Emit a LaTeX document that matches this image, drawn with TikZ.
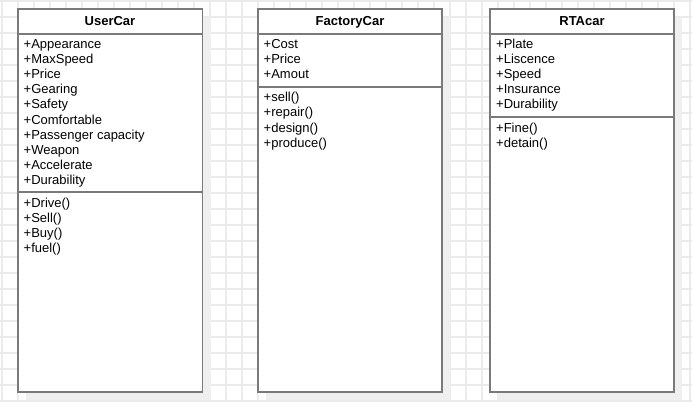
\documentclass[tikz,border=0pt]{standalone}
\usepackage{fontspec}
\setmainfont{Liberation Sans}
\definecolor{gridc}{HTML}{EBEBEB}
\definecolor{shadowc}{HTML}{EFEFEF}
\definecolor{linec}{HTML}{7A7A7A}
\tikzset{
  classbox/.style={draw=linec, line width=1.8pt, fill=white},
  divline/.style={draw=linec, line width=1.8pt},
  title/.style={font=\fontsize{13}{15}\selectfont\bfseries, inner sep=0pt, anchor=base, text=black},
  member/.style={font=\fontsize{13}{15}\selectfont, inner sep=0pt, anchor=base west, text=black, align=left}
}
\begin{document}
\begin{tikzpicture}[x=1pt,y=-1pt]
\useasboundingbox (0,0) rectangle (692,401);
\fill[white] (0,0) rectangle (692,401);
% grid
\foreach \gx in {2,18,...,690} { \draw[gridc, line width=1.2pt] (\gx,0) -- (\gx,401); }
\foreach \gy in {1,17,...,401} { \draw[gridc, line width=1.2pt] (0,\gy) -- (692,\gy); }
% shadows
\fill[shadowc] (26,17) rectangle (211,400);
\fill[shadowc] (266,17) rectangle (450,400);
\fill[shadowc] (498,17) rectangle (682,400);
% UserCar
\draw[classbox] (18,9) rectangle (202.5,392);
\draw[divline] (18,34) -- (202.5,34);
\draw[divline] (18,192) -- (202.5,192);
\node[title] (t1) at (110,26) {UserCar};
\node[member] (a1) at (23.5,49) {+Appearance};
\node[member] (a2) at (23.5,64) {+MaxSpeed};
\node[member] (a3) at (23.5,79) {+Price};
\node[member] (a4) at (23.5,94) {+Gearing};
\node[member] (a5) at (23.5,109) {+Safety};
\node[member] (a6) at (23.5,124) {+Comfortable};
\node[member] (a7) at (23.5,139) {+Passenger capacity};
\node[member] (a8) at (23.5,154) {+Weapon};
\node[member] (a9) at (23.5,169) {+Accelerate};
\node[member] (a10) at (23.5,184) {+Durability};
\node[member] (m1) at (23.5,207) {+Drive()};
\node[member] (m2) at (23.5,222) {+Sell()};
\node[member] (m3) at (23.5,237) {+Buy()};
\node[member] (m4) at (23.5,252) {+fuel()};
% FactoryCar
\draw[classbox] (258,9) rectangle (442,392);
\draw[divline] (258,34) -- (442,34);
\draw[divline] (258,87) -- (442,87);
\node[title] (t2) at (350,26) {FactoryCar};
\node[member] (b1) at (263.5,49) {+Cost};
\node[member] (b2) at (263.5,64) {+Price};
\node[member] (b3) at (263.5,79) {+Amout};
\node[member] (n1) at (263.5,102) {+sell()};
\node[member] (n2) at (263.5,117) {+repair()};
\node[member] (n3) at (263.5,132) {+design()};
\node[member] (n4) at (263.5,147) {+produce()};
% RTAcar
\draw[classbox] (490,9) rectangle (674,392);
\draw[divline] (490,34) -- (674,34);
\draw[divline] (490,117) -- (674,117);
\node[title] (t3) at (582,26) {RTAcar};
\node[member] (c1) at (496,49) {+Plate};
\node[member] (c2) at (496,64) {+Liscence};
\node[member] (c3) at (496,79) {+Speed};
\node[member] (c4) at (496,94) {+Insurance};
\node[member] (c5) at (496,109) {+Durability};
\node[member] (p1) at (496,132) {+Fine()};
\node[member] (p2) at (496,147) {+detain()};
\end{tikzpicture}
\end{document}
